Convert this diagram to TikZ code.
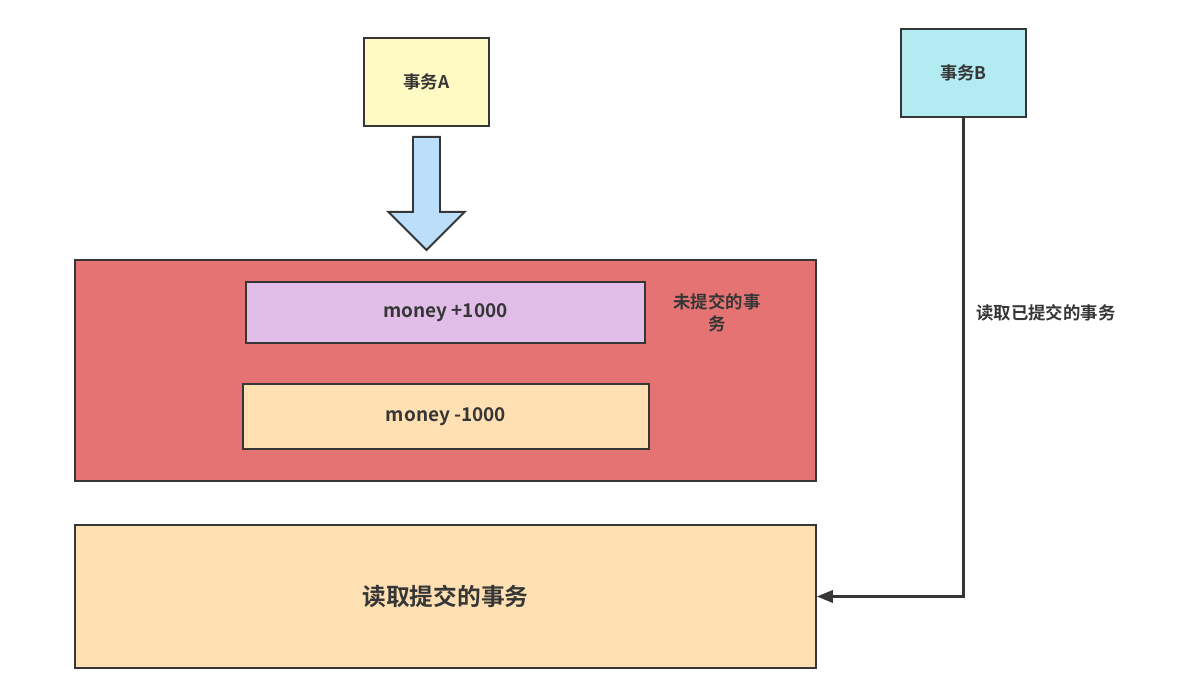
\documentclass[tikz,border=0pt]{standalone}
\usepackage{fontspec}
\setmainfont{Noto Sans CJK SC}[BoldFont={* Bold}]
\definecolor{linegray}{RGB}{54,54,54}
\definecolor{txgold}{RGB}{255,249,196}
\definecolor{txcyan}{RGB}{178,235,242}
\definecolor{uncommitred}{RGB}{229,115,115}
\definecolor{plusviolet}{RGB}{225,190,231}
\definecolor{minuspeach}{RGB}{255,224,178}
\definecolor{flowblue}{RGB}{187,222,251}
\usetikzlibrary{arrows.meta,calc}

\begin{document}
\begin{tikzpicture}[x=0.02cm,y=-0.02cm,
    box/.style={draw=linegray, line width=1.1pt, rectangle, inner sep=0pt,
      font=\fontsize{9.9}{12}\selectfont\bfseries, text=linegray},
    money/.style={box, font=\fontsize{10.8}{13}\selectfont\bfseries},
    lbl/.style={font=\fontsize{9.9}{12.5}\selectfont\bfseries, text=linegray, inner sep=0pt}]
  \useasboundingbox (0,0) rectangle (1178,689);
  % transactions
  \node[box, fill=txgold, minimum width=125*0.02cm, minimum height=88*0.02cm] (txA) at (426.5,82) {事务A};
  \node[box, fill=txcyan, minimum width=125*0.02cm, minimum height=88*0.02cm] (txB) at (963.5,73) {事务B};
  % uncommitted area
  \node[box, fill=uncommitred, minimum width=741*0.02cm, minimum height=221*0.02cm] (dirty) at (445.5,370.5) {};
  \node[money, fill=plusviolet, minimum width=399*0.02cm, minimum height=61*0.02cm] (plus) at (445.5,312.5) {money +1000};
  \node[money, fill=minuspeach, minimum width=406*0.02cm, minimum height=65*0.02cm] (minus) at (446,416.5) {money -1000};
  \node[lbl, align=center] (dirtylbl) at (717,313) {未提交的事\\务};
  % committed area
  \node[box, fill=minuspeach, minimum width=741*0.02cm, minimum height=143*0.02cm,
    font=\fontsize{13.5}{16}\selectfont\bfseries] (clean) at (445.5,596.5) {读取提交的事务};
  % block arrow from A down to the red area
  \coordinate (shaft) at ($(txA.south)+(0,10)$);
  \draw[draw=linegray, line width=1.1pt, fill=flowblue, line join=miter]
    ($(shaft)+(-13.5,0)$) -- ($(shaft)+(13.5,0)$) -- ($(shaft)+(13.5,75)$) -- ($(shaft)+(38,75)$)
    -- ($(shaft)+(0,113)$) -- ($(shaft)+(-38,75)$) -- ($(shaft)+(-13.5,75)$) -- cycle;
  % read by B
  \draw[draw=linegray, line width=1.3pt, -{Triangle[length=9pt,width=7pt]}] (txB.south) |- (clean.east);
  \node[lbl, anchor=west] (readlbl) at (976,313) {读取已提交的事务};
\end{tikzpicture}
\end{document}
